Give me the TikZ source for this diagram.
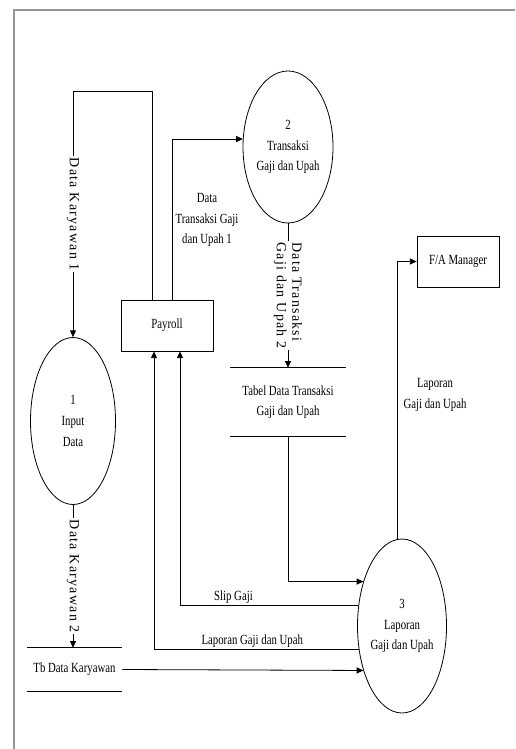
\documentclass[tikz,border=0pt]{standalone}
\usepackage{fontspec}
\setmainfont{Liberation Serif}[FakeStretch=0.77]
\newfontfamily\rotfont{Liberation Serif}[LetterSpace=9]
\usepackage{tikz}
\usetikzlibrary{shapes.geometric,arrows.meta,positioning,calc}
\definecolor{frameGray}{RGB}{150,150,150}

\begin{document}
\begin{tikzpicture}[x=0.75pt,y=-0.75pt,
  proc/.style={draw,ellipse,line width=0.6pt,align=center,inner sep=0pt,font=\fontsize{10.5}{15.5}\selectfont},
  ent/.style={draw,rectangle,line width=0.6pt,font=\fontsize{10.5}{15.5}\selectfont},
  store/.style={rectangle,align=center,inner sep=0pt,font=\fontsize{10.5}{15.5}\selectfont},
  flow/.style={line width=0.6pt,-{Triangle[length=5pt,width=4.5pt]}},
  lbl/.style={align=center,inner sep=1pt,font=\fontsize{10.5}{15.5}\selectfont},
  vlbl/.style={rotate=-90,fill=white,inner sep=1pt,font=\rotfont\fontsize{10.5}{11.5}\selectfont}]
  \useasboundingbox (0,0) rectangle (515,749);
  % Frame
  \draw[frameGray,line width=1.2pt] (14,749) |- (515,10);
  % Processes
  \node[proc,minimum width=67.5pt,minimum height=114pt] (trx) at (288,147) {2\\Transaksi\\Gaji dan Upah};
  \node[proc,minimum width=63.75pt,minimum height=125.25pt] (inp) at (73,421) {1\\Input\\Data};
  \node[proc,minimum width=66.75pt,minimum height=130.5pt] (lap) at (402,626) {3\\Laporan\\Gaji dan Upah};
  % Entities
  \node[ent,minimum width=69pt,minimum height=38.25pt] (pay) at (167,325.5) {Payroll};
  \node[ent,minimum width=61.5pt,minimum height=38.25pt] (fam) at (458,261.5) {F/A Manager};
  % Data stores
  \node[store,minimum width=86.25pt,minimum height=51pt] (tdt) at (288,402) {Tabel Data Transaksi\\Gaji dan Upah};
  \node[store,minimum width=71.25pt,minimum height=32.25pt] (tdk) at (74.5,669.5) {Tb Data Karyawan};
  \draw[line width=0.6pt] (tdt.north west) -- (tdt.north east) (tdt.south west) -- (tdt.south east);
  \draw[line width=0.6pt] (tdk.north west) -- (tdk.north east) (tdk.south west) -- (tdk.south east);
  % Flows
  \draw[flow] ([xshift=-11.25pt]pay.north) -- ++(0,-208) -| (inp.north) node[vlbl,pos=0.75] {Data Karyawan 1};
  \draw[flow] ([xshift=3.75pt]pay.north) |- (trx.170);
  \node[lbl] (dtg1) at (207,220) {Data\\Transaksi Gaji\\dan Upah 1};
  \draw[flow] (trx.south) -- (tdt.north) node[vlbl,midway,align=left] {Data Transaksi\\Gaji dan Upah 2};
  \draw[flow] (tdt.south) |- (lap.131);
  \draw[flow] (lap.155) -| ([xshift=9.75pt]pay.south) node[lbl,above,pos=0.35] {Slip Gaji};
  \draw[flow] (lap.208) -| ([xshift=-9.75pt]pay.south) node[lbl,above,pos=0.26] {Laporan Gaji dan Upah};
  \draw[flow] (tdk.east) -- (lap.229);
  \draw[flow] (lap.93) |- (fam.west);
  \node[lbl] (lgu) at (435,395) {Laporan\\Gaji dan Upah};
  \draw[flow] (inp.south) -- (inp.south |- tdk.north) node[vlbl,midway] {Data Karyawan 2};
\end{tikzpicture}
\end{document}
